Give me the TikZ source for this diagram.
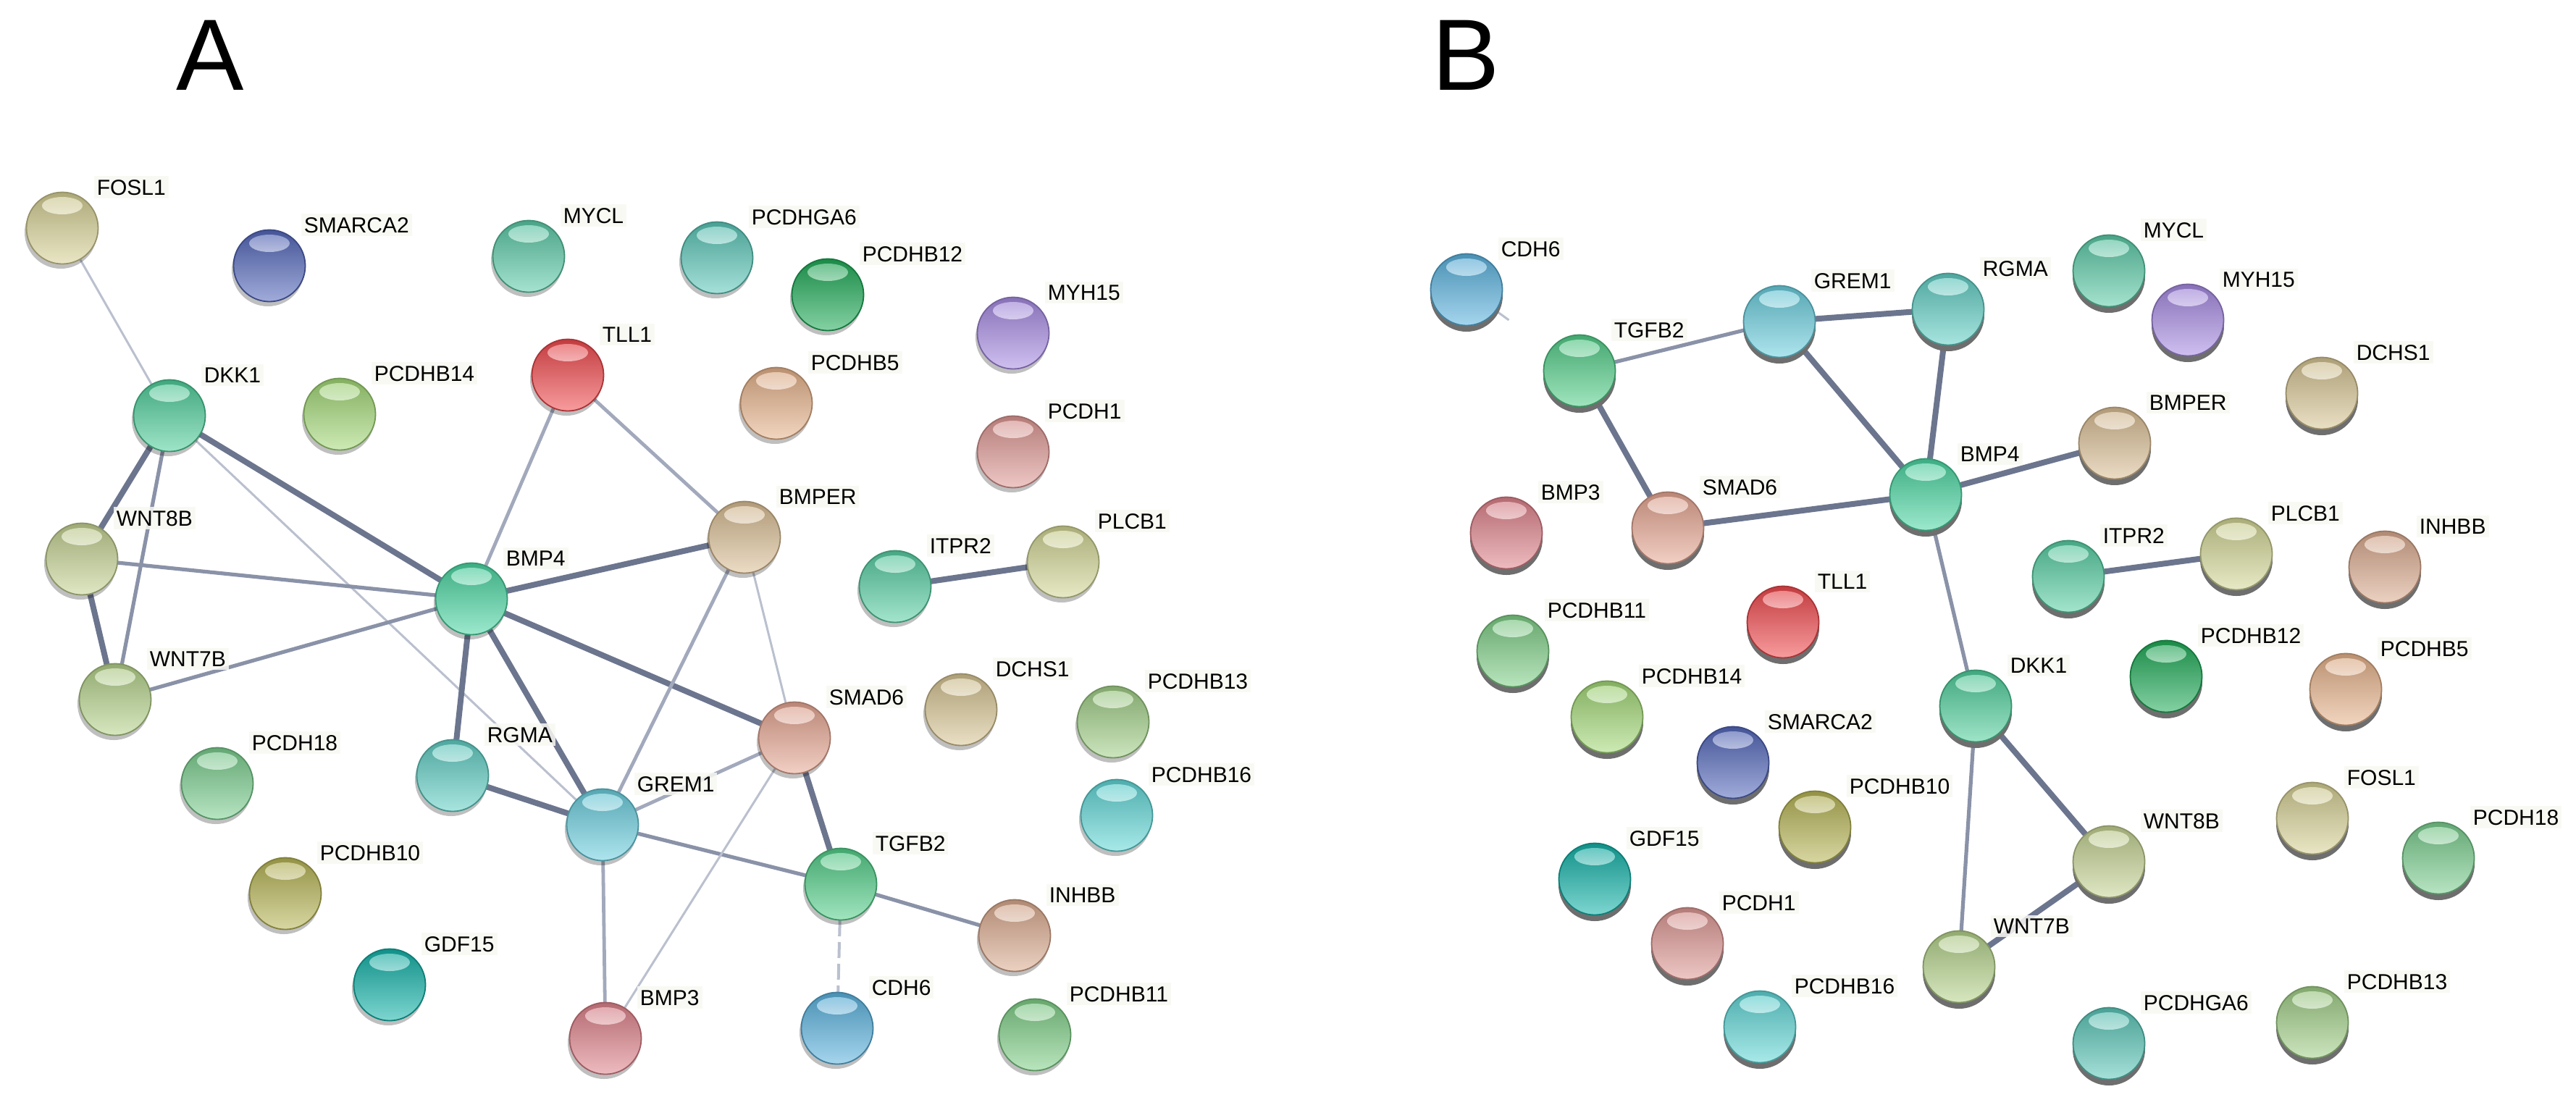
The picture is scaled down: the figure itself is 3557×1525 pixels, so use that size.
\documentclass[tikz,border=0pt]{standalone}
\usepackage{fontspec}
\setmainfont{Liberation Sans}
\usetikzlibrary{calc}
\pgfdeclarelayer{bg}
\pgfdeclarelayer{edges}
\pgfsetlayers{bg,edges,main}
% gene colours
\definecolor{cfosl1}{HTML}{D8D296}
\definecolor{csmarca2}{HTML}{5468BC}
\definecolor{cmycl}{HTML}{5CCCA8}
\definecolor{cpcdhga6}{HTML}{5CC8BA}
\definecolor{cpcdhb12}{HTML}{20AC58}
\definecolor{cmyh15}{HTML}{A88CE4}
\definecolor{ctll1}{HTML}{F24A4E}
\definecolor{cpcdhb5}{HTML}{E8B48C}
\definecolor{cpcdh1}{HTML}{E09A96}
\definecolor{cdkk1}{HTML}{50D09C}
\definecolor{cpcdhb14}{HTML}{A4DA78}
\definecolor{cwnt8b}{HTML}{C6D494}
\definecolor{cbmp4}{HTML}{4CD8A4}
\definecolor{cbmper}{HTML}{DCC096}
\definecolor{citpr2}{HTML}{58D0A4}
\definecolor{cplcb1}{HTML}{D4D896}
\definecolor{cwnt7b}{HTML}{B6D48C}
\definecolor{cpcdh18}{HTML}{7CD090}
\definecolor{crgma}{HTML}{62D0C6}
\definecolor{cgrem1}{HTML}{6CD0E0}
\definecolor{csmad6}{HTML}{E8A894}
\definecolor{cdchs1}{HTML}{D8C694}
\definecolor{cpcdhb13}{HTML}{A2D088}
\definecolor{cpcdhb16}{HTML}{62D8D8}
\definecolor{ctgfb2}{HTML}{54D08A}
\definecolor{cinhbb}{HTML}{DCAC90}
\definecolor{cpcdhb10}{HTML}{B8B656}
\definecolor{cgdf15}{HTML}{14B4AA}
\definecolor{cbmp3}{HTML}{E0848C}
\definecolor{ccdh6}{HTML}{5CB4E0}
\definecolor{cpcdhb11}{HTML}{80D088}
% edge and misc colours
\definecolor{edgeA}{HTML}{6C758E}
\definecolor{edgeB}{HTML}{8A92A8}
\definecolor{edgeC}{HTML}{A2A9BC}
\definecolor{edgeD}{HTML}{BAC0CE}
\definecolor{labbg}{HTML}{F8F8F3}
\definecolor{shB}{HTML}{6E6E6E}
\tikzset{
  gnode/.style={circle, minimum size=25pt, inner sep=0pt, outer sep=0pt},
  glabel/.style={anchor=base west, font=\fontsize{7.5}{9}\selectfont, inner xsep=1pt, inner ysep=1.2pt,
                 fill=labbg, fill opacity=0.85, text opacity=1},
  panellabel/.style={anchor=base west, inner sep=0pt, font=\fontsize{35}{40}\selectfont},
  shadowA/.style={fill=black, fill opacity=0.25},
  shadowB/.style={fill=shB},
  ethick/.style={line width=2pt, draw=edgeA},
  emed/.style={line width=1.3pt, draw=edgeB},
  emlight/.style={line width=1.2pt, draw=edgeC},
  elight/.style={line width=0.75pt, draw=edgeD},
  edash/.style={line width=1pt, draw=edgeD, dash pattern=on 5.5pt off 2pt},
}
% #1 name, #2 x, #3 y, #4 colour, #5 label, #6 shadow style, #7,#8 shadow offset
\newcommand\gene[8]{%
  \node[gnode] (#1) at (#2,#3) {};
  \fill[#6] (#1.center) ++(#7,#8) circle (50);
  \shade[top color=#4!80!black, middle color=#4, bottom color=#4!55!white] (#1.center) circle (50);
  \draw[#4!70!black, line width=0.45pt] (#1.center) circle (49.5);
  \shade[top color=#4!55!white, bottom color=white!90!#4, opacity=0.8] (#1.center) ++(0,-31) ellipse [x radius=28, y radius=12];
  \path (#1.center) ++(43,-46) node[glabel] (#1-l) {#5};
}
\newcommand\ga[4]{\gene{a-#1}{#2}{#3}{c#1}{#4}{shadowA}{-2}{6}}
\newcommand\gb[4]{\gene{b-#1}{#2}{#3}{c#1}{#4}{shadowB}{0}{8}}
\begin{document}
\begin{tikzpicture}[x=0.25pt, y=-0.25pt]
\useasboundingbox (0,0) rectangle (3557,1525);
\begin{pgfonlayer}{bg}
\fill[white] (0,0) rectangle (3557,1525);
\end{pgfonlayer}
\node[panellabel] (letterA) at (243,124) {A};
\node[panellabel] (letterB) at (1977,124) {B};
% ---------------- panel A ----------------
\ga{fosl1}{86}{315}{FOSL1}
\ga{smarca2}{372}{367}{SMARCA2}
\ga{mycl}{730}{354}{MYCL}
\ga{pcdhga6}{990}{356}{PCDHGA6}
\ga{pcdhb12}{1143}{407}{PCDHB12}
\ga{myh15}{1399}{460}{MYH15}
\ga{dkk1}{234}{574}{DKK1}
\ga{pcdhb14}{469}{572}{PCDHB14}
\ga{tll1}{784}{518}{TLL1}
\ga{pcdhb5}{1072}{557}{PCDHB5}
\ga{pcdh1}{1399}{624}{PCDH1}
\ga{wnt8b}{113}{772}{WNT8B}
\ga{bmp4}{651}{827}{BMP4}
\ga{bmper}{1028}{742}{BMPER}
\ga{itpr2}{1236}{810}{ITPR2}
\ga{plcb1}{1468}{776}{PLCB1}
\ga{wnt7b}{159}{966}{WNT7B}
\ga{pcdh18}{300}{1082}{PCDH18}
\ga{rgma}{625}{1071}{RGMA}
\ga{grem1}{832}{1139}{GREM1}
\ga{smad6}{1097}{1019}{SMAD6}
\ga{dchs1}{1327}{980}{DCHS1}
\ga{pcdhb13}{1537}{997}{PCDHB13}
\ga{pcdhb16}{1542}{1126}{PCDHB16}
\ga{tgfb2}{1161}{1221}{TGFB2}
\ga{inhbb}{1401}{1292}{INHBB}
\ga{pcdhb10}{394}{1234}{PCDHB10}
\ga{gdf15}{538}{1360}{GDF15}
\ga{bmp3}{836}{1434}{BMP3}
\ga{cdh6}{1156}{1420}{CDH6}
\ga{pcdhb11}{1429}{1429}{PCDHB11}
% ---------------- panel B ----------------
\gb{cdh6}{2025}{400}{CDH6}
\gb{tgfb2}{2181}{512}{TGFB2}
\gb{grem1}{2457}{444}{GREM1}
\gb{rgma}{2690}{427}{RGMA}
\gb{mycl}{2912}{374}{MYCL}
\gb{myh15}{3021}{442}{MYH15}
\gb{dchs1}{3206}{543}{DCHS1}
\gb{bmper}{2920}{612}{BMPER}
\gb{bmp4}{2659}{683}{BMP4}
\gb{bmp3}{2080}{736}{BMP3}
\gb{smad6}{2303}{729}{SMAD6}
\gb{plcb1}{3088}{765}{PLCB1}
\gb{itpr2}{2856}{796}{ITPR2}
\gb{inhbb}{3293}{783}{INHBB}
\gb{tll1}{2462}{859}{TLL1}
\gb{pcdhb11}{2089}{899}{PCDHB11}
\gb{pcdhb14}{2219}{990}{PCDHB14}
\gb{smarca2}{2393}{1053}{SMARCA2}
\gb{pcdhb10}{2506}{1142}{PCDHB10}
\gb{gdf15}{2202}{1214}{GDF15}
\gb{pcdh1}{2330}{1303}{PCDH1}
\gb{pcdhb16}{2430}{1418}{PCDHB16}
\gb{dkk1}{2728}{975}{DKK1}
\gb{wnt7b}{2705}{1335}{WNT7B}
\gb{wnt8b}{2912}{1190}{WNT8B}
\gb{pcdhb12}{2991}{934}{PCDHB12}
\gb{pcdhb5}{3239}{952}{PCDHB5}
\gb{fosl1}{3193}{1130}{FOSL1}
\gb{pcdh18}{3367}{1185}{PCDH18}
\gb{pcdhga6}{2912}{1441}{PCDHGA6}
\gb{pcdhb13}{3193}{1412}{PCDHB13}
\coordinate (b-cdh6-end) at ($(b-cdh6.center)!18pt!(b-tgfb2.center)$);
% ---------------- edges ----------------
\begin{pgfonlayer}{edges}
% A
\draw[elight] (a-fosl1) -- (a-dkk1);
\draw[ethick] (a-dkk1) -- (a-wnt8b);
\draw[emed] (a-dkk1) -- (a-wnt7b);
\draw[ethick] (a-dkk1) -- (a-bmp4);
\draw[elight] (a-dkk1) -- (a-grem1);
\draw[ethick] (a-wnt8b) -- (a-wnt7b);
\draw[emed] (a-wnt8b) -- (a-bmp4);
\draw[emed] (a-wnt7b) -- (a-bmp4);
\draw[emlight] (a-tll1) -- (a-bmp4);
\draw[emlight] (a-tll1) -- (a-bmper);
\draw[ethick] (a-bmp4) -- (a-bmper);
\draw[ethick] (a-bmp4) -- (a-rgma);
\draw[ethick] (a-bmp4) -- (a-grem1);
\draw[ethick] (a-bmp4) -- (a-smad6);
\draw[emlight] (a-bmper) -- (a-grem1);
\draw[elight] (a-bmper) -- (a-smad6);
\draw[ethick] (a-rgma) -- (a-grem1);
\draw[emlight] (a-grem1) -- (a-smad6);
\draw[emed] (a-grem1) -- (a-tgfb2);
\draw[emlight] (a-grem1) -- (a-bmp3);
\draw[ethick] (a-smad6) -- (a-tgfb2);
\draw[elight] (a-smad6) -- (a-bmp3);
\draw[emed] (a-tgfb2) -- (a-inhbb);
\draw[edash] (a-tgfb2) -- (a-cdh6);
\draw[ethick] (a-itpr2) -- (a-plcb1);
% B
\draw[elight] (b-cdh6) -- (b-cdh6-end);
\draw[emed] (b-tgfb2) -- (b-grem1);
\draw[ethick] (b-tgfb2) -- (b-smad6);
\draw[ethick] (b-grem1) -- (b-rgma);
\draw[ethick] (b-grem1) -- (b-bmp4);
\draw[ethick] (b-rgma) -- (b-bmp4);
\draw[ethick] (b-smad6) -- (b-bmp4);
\draw[ethick] (b-bmp4) -- (b-bmper);
\draw[emed] (b-bmp4) -- (b-dkk1);
\draw[ethick] (b-dkk1) -- (b-wnt8b);
\draw[emed] (b-dkk1) -- (b-wnt7b);
\draw[ethick] (b-wnt8b) -- (b-wnt7b);
\draw[ethick] (b-itpr2) -- (b-plcb1);
\end{pgfonlayer}
\end{tikzpicture}
\end{document}
